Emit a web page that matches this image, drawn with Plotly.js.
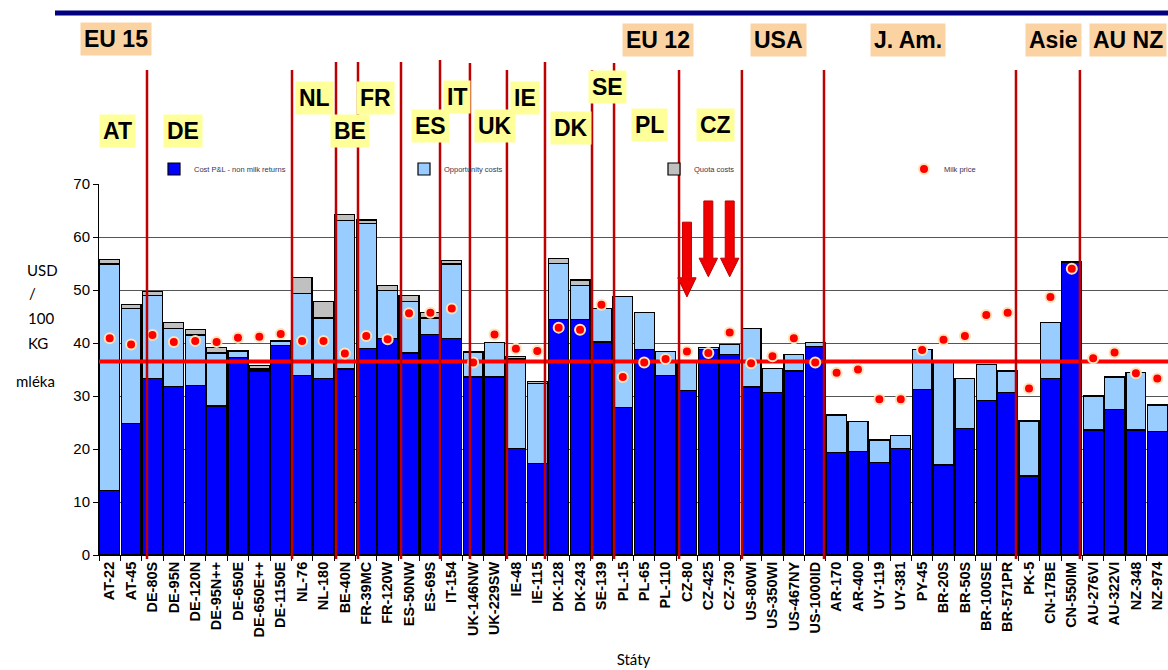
<!DOCTYPE html>
<html><head><meta charset="utf-8">
<script src="https://cdn.plot.ly/plotly-3.0.1.min.js"></script>
<style>html,body{margin:0;padding:0;background:#fff;} #chart{width:1168px;height:670px;}</style>
</head><body><div id="chart"></div>
<script>
// ---------- data ----------
const categories = ["AT-22","AT-45","DE-80S","DE-95N","DE-120N","DE-95N++","DE-650E","DE-650E++","DE-1150E",
  "NL-76","NL-180","BE-40N","FR-39MC","FR-120W","ES-50NW","ES-69S","IT-154","UK-146NW","UK-229SW",
  "IE-48","IE-115","DK-128","DK-243","SE-139","PL-15","PL-65","PL-110","CZ-80","CZ-425","CZ-730",
  "US-80WI","US-350WI","US-467NY","US-1000ID","AR-170","AR-400","UY-119","UY-381","PY-45",
  "BR-20S","BR-50S","BR-100SE","BR-571PR","PK-5","CN-17BE","CN-550IM","AU-276VI","AU-322VI","NZ-348","NZ-974"];
const costPL = [12.1,24.8,33.3,31.8,32.0,28.1,37.3,34.7,39.6,
  33.8,33.3,35.1,38.9,40.9,38.1,41.6,40.8,33.6,33.6,
  20.1,17.3,44.5,44.5,40.2,27.8,38.7,33.8,31.0,38.8,37.9,
  31.7,30.6,34.7,39.3,19.3,19.6,17.5,20.1,31.3,
  17.0,23.8,29.1,30.7,14.9,33.3,55.3,23.6,27.4,23.6,23.3];
const opportunityCosts = [42.8,21.7,15.6,11.0,9.5,10.0,1.1,0.4,0.7,
  15.6,11.4,28.0,23.7,9.0,9.7,3.1,14.1,4.7,6.5,
  16.9,15.0,10.5,6.3,6.3,20.9,7.1,4.6,5.6,0.3,1.8,
  11.1,4.6,3.2,0.8,7.1,5.6,4.2,2.4,7.4,
  19.5,9.5,6.9,4.0,10.4,10.6,0,6.3,6.2,10.9,5.0];
const quotaCosts = [0.9,0.8,0.8,1.1,1.1,1.0,0.2,0.6,0.2,
  2.9,3.2,1.2,0.6,0.9,1.1,1.0,0.6,0,0,
  0.5,0.5,1.0,1.1,0,0,0,0,0,0,0,
  0,0,0,0,0,0,0,0,0,
  0,0,0,0,0,0,0,0.2,0,0,0];
const milkPrice = [40.9,39.7,41.5,40.2,40.4,40.2,41.0,41.2,41.7,
  40.4,40.4,38.0,41.3,40.7,45.6,45.7,46.5,36.3,41.6,
  38.9,38.5,42.9,42.5,47.2,33.6,36.3,37.0,38.4,38.1,42.0,
  36.2,37.5,40.9,36.3,34.4,35.0,29.4,29.4,38.7,
  40.6,41.3,45.3,45.7,31.4,48.7,54.0,37.1,38.2,34.3,33.3];
const referencePrice = 36.5;
const yTicks = [0,10,20,30,40,50,60,70];
const seriesNames = ["Cost P&L - non milk returns","Opportunity costs","Quota costs","Milk price"];
const regionLabels = ["EU 15","EU 12","USA","J. Am.","Asie","AU NZ"];
const countryLabels = ["AT","DE","NL","BE","FR","ES","IT","UK","IE","DK","SE","PL","CZ"];
const yTitleLines = ["USD","/","100","KG","mléka"];
const xTitle = "Státy";

// ---------- layout helpers (pixel geometry) ----------
const W=1168,H=670,L=99,R=0,T=184,B=115;
const PW=W-L-R, PH=H-T-B;
const px = x => (x-L)/PW;
const py = y => (H-B-y)/PH;
const N = categories.length;
const catPaper = i => (i+0.5)/N;

// separator positions (category index, top in px)
const separators = [[1.745,70],[8.527,70],[10.585,62],[11.614,62],[13.625,62],[15.45,60],[16.85,63],
  [18.58,70],[20.36,62],[22.56,70],[23.59,63],[26.63,70],[29.57,70],[33.41,70],[42.39,70],[45.38,70]];
const regionPos = [[116,39],[658,40],[778,40],[908,40],[1053,40],[1128,40]];
const countryPos = [[117,131],[183,131],[314,98],[350,131],[375,98],[430,126],[457,97],[495,126],[525,98],[571,128],[607,87],[649,125],[715,125]];
const yTitlePos = [[25,270],[27,293],[26,318],[26,343],[14,381]];

const barLine = {color:'#000', width:1.2};
const traces = [
  {type:'bar', name:seriesNames[0], x:categories, y:costPL, marker:{color:'#0000FF', line:barLine}},
  {type:'bar', name:seriesNames[1], x:categories, y:opportunityCosts, marker:{color:'#99CCFF', line:barLine}},
  {type:'bar', name:seriesNames[2], x:categories, y:quotaCosts, marker:{color:'#C0C0C0', line:barLine}},
  {type:'scatter', mode:'lines', x:[-0.5, N-0.5], y:[referencePrice, referencePrice], xaxis:'x2',
   line:{color:'#FF0000', width:4}, showlegend:false, hoverinfo:'skip'},
  {type:'scatter', mode:'markers', name:seriesNames[3], x:categories.map((c,i)=>i), y:milkPrice, xaxis:'x2',
   marker:{color:'#FF0000', size:10, line:{color:'#FFE2B8', width:2}}}
];

const shapes = [];
// top navy rule
shapes.push({type:'line', xref:'paper', yref:'paper', x0:px(55), x1:px(1168), y0:py(13), y1:py(13),
  line:{color:'#000080', width:5}});
// separators
separators.forEach(([i,top])=>{
  shapes.push({type:'line', xref:'paper', yref:'paper', x0:catPaper(i), x1:catPaper(i), y0:py(559), y1:py(top),
    line:{color:'#C00000', width:2.5}, layer:'above'});
});
// arrows pointing at CZ bars
const arrowSpecs = [[27,62.8,52.3,48.7],[28,66.8,56.0,52.5],[29,66.8,56.0,52.5]];
arrowSpecs.forEach(([c,top,head,tip])=>{
  const s=0.21, h=0.43;
  const p = `M${c-s},${top} L${c+s},${top} L${c+s},${head} L${c+h},${head} L${c},${tip} L${c-h},${head} L${c-s},${head} Z`;
  shapes.push({type:'path', xref:'x', yref:'y', path:p, fillcolor:'#F00000', line:{color:'#C00000', width:1}, layer:'above'});
});

const annotations = [];
const labFont = {family:'Liberation Sans, Arial, sans-serif', size:23, weight:'bold', color:'#000'};
regionLabels.forEach((t,k)=>{
  const [x,y]=regionPos[k];
  annotations.push({text:t, xref:'paper', yref:'paper', x:px(x), y:py(y), xanchor:'center', yanchor:'middle',
    showarrow:false, bgcolor:'#FBD3A3', borderpad:3, font:labFont});
});
countryLabels.forEach((t,k)=>{
  const [x,y]=countryPos[k];
  annotations.push({text:t, xref:'paper', yref:'paper', x:px(x), y:py(y), xanchor:'center', yanchor:'middle',
    showarrow:false, bgcolor:'#FFFF99', borderpad:3, font:labFont});
});
yTitleLines.forEach((t,k)=>{
  const [x,y]=yTitlePos[k];
  annotations.push({text:t, xref:'paper', yref:'paper', x:px(x), y:py(y), xanchor:'left', yanchor:'middle',
    showarrow:false, font:{family:'Lato, Open Sans, sans-serif', size:15, color:'#000'}});
});

const layout = {
  width:W, height:H, margin:{l:L, r:R, t:T, b:B},
  paper_bgcolor:'#fff', plot_bgcolor:'#fff',
  barmode:'stack', bargap:0.07,
  showlegend:true,
  legend:{orientation:'h', x:px(154), y:py(169), xanchor:'left', yanchor:'middle', traceorder:'normal',
    entrywidth:205, font:{family:'Liberation Sans, Arial, sans-serif', size:7.5, color:'#333355'},
    bgcolor:'rgba(0,0,0,0)'},
  xaxis:{type:'category', range:[-0.5, N-0.5], tickangle:-90, ticks:'outside', tickson:'boundaries', ticklen:5,
    tickcolor:'#000', showline:true, linecolor:'#000', linewidth:1, showgrid:false, fixedrange:true,
    tickfont:{family:'Liberation Sans, Arial, sans-serif', size:14.5, weight:'bold', color:'#000'},
    title:{text:xTitle, font:{family:'Lato, Open Sans, sans-serif', size:15, color:'#000'}, standoff:17}},
  xaxis2:{overlaying:'x', type:'linear', range:[-0.5, N-0.5], visible:false, fixedrange:true},
  yaxis:{range:[0,70], tickvals:yTicks, ticks:'outside', ticklen:5, tickcolor:'#000', showline:true, linecolor:'#000',
    linewidth:1, showgrid:true, gridcolor:'#555', gridwidth:1, zeroline:false, fixedrange:true,
    tickfont:{family:'Liberation Sans, Arial, sans-serif', size:15, color:'#000'}},
  shapes:shapes, annotations:annotations
};
Plotly.newPlot('chart', traces, layout, {displayModeBar:false, responsive:false});
</script>
</body></html>
